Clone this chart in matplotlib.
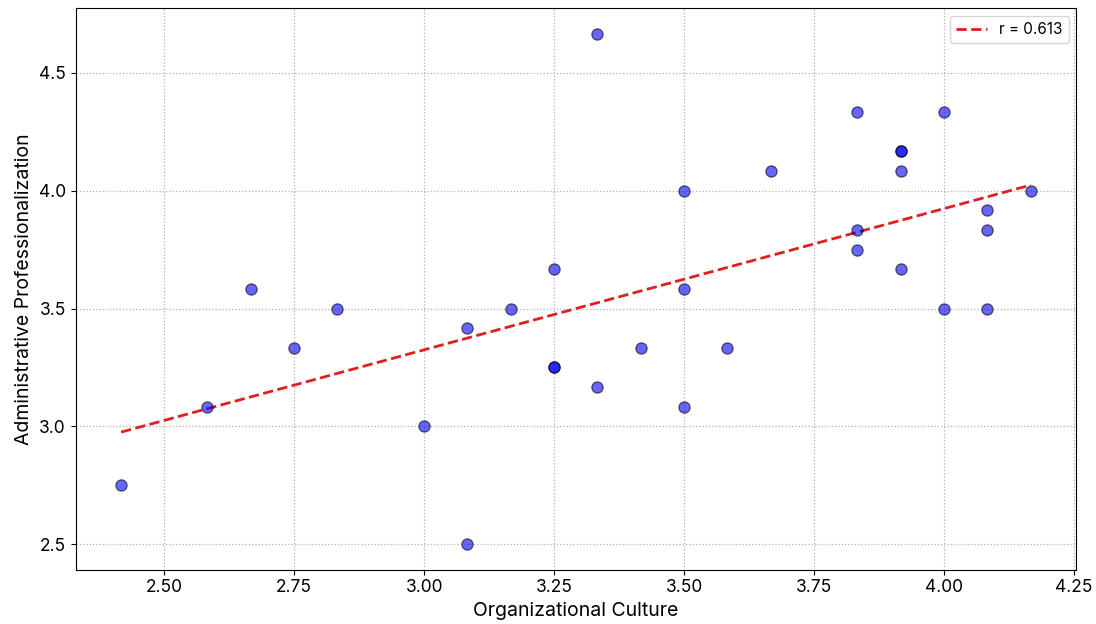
import matplotlib
matplotlib.use("Agg")
import matplotlib.pyplot as plt
import numpy as np

plt.rcParams["font.family"] = ["Inter", "DejaVu Sans"]

# Organizational Culture (x) vs Administrative Professionalization (y)
org_culture = [
    2.417, 2.583, 2.667, 2.750, 2.833, 3.000, 3.083, 3.083, 3.167, 3.250,
    3.250, 3.250, 3.333, 3.333, 3.417, 3.500, 3.500, 3.500, 3.583, 3.667,
    3.833, 3.833, 3.833, 3.917, 3.917, 3.917, 3.917, 4.000, 4.000, 4.083,
    4.083, 4.083, 4.167,
]
admin_prof = [
    2.750, 3.083, 3.583, 3.333, 3.500, 3.000, 3.417, 2.500, 3.500, 3.667,
    3.250, 3.250, 4.667, 3.167, 3.333, 4.000, 3.583, 3.083, 3.333, 4.083,
    4.333, 3.833, 3.750, 4.167, 4.167, 4.083, 3.667, 4.333, 3.500, 3.917,
    3.833, 3.500, 4.000,
]
x_ticks = [2.50, 2.75, 3.00, 3.25, 3.50, 3.75, 4.00, 4.25]
r_label = "r = 0.613"

x = np.array(org_culture)
y = np.array(admin_prof)
slope, intercept = np.polyfit(x, y, 1)
x_line = np.array([x.min(), x.max()])

fig, ax = plt.subplots(figsize=(10.96, 6.24), dpi=100)
fig.subplots_adjust(left=0.069, right=0.982, top=0.987, bottom=0.087)

ax.scatter(x, y, s=65, color="blue", alpha=0.6, edgecolors="black",
           linewidths=0.9, zorder=3)
ax.plot(x_line, slope * x_line + intercept, color="#e01f1f", linestyle="--",
        linewidth=2, label=r_label, zorder=2)

ax.set_xlabel("Organizational Culture", fontsize=14)
ax.set_ylabel("Administrative Professionalization", fontsize=14)
ax.tick_params(labelsize=12.5)
ax.set_xticks(x_ticks)
ax.set_xticklabels([f"{v:.2f}" for v in x_ticks])
ax.grid(True, linestyle=":", color="#b0b0b0", linewidth=0.9)
ax.legend(loc="upper right", fontsize=11)

fig.savefig("out.png", dpi=100)
